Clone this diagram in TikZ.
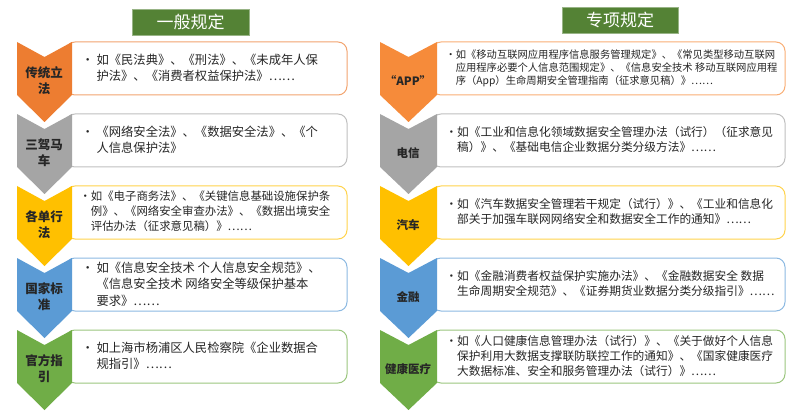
\documentclass[tikz,border=0pt]{standalone}
\usepackage{fontspec}
\setmainfont{Noto Sans CJK SC}
\definecolor{cOr}{HTML}{ED7D31}
\definecolor{cOr2}{HTML}{F68B3A}
\definecolor{cGr}{HTML}{A5A5A5}
\definecolor{cYe}{HTML}{FFC000}
\definecolor{cBl}{HTML}{5B9BD5}
\definecolor{cGn}{HTML}{70AD47}
\definecolor{cTi}{HTML}{548235}
\newcommand\mychev[4]{% x0, x1, ytop, color
  \fill[#4] (#1,#3) -- ({(#1+#2)/2},#3+15) -- (#2,#3) -- (#2,#3+53) -- ({(#1+#2)/2},#3+80) -- (#1,#3+53) -- cycle;}
\tikzset{
  titlebox/.style={fill=cTi, draw=cTi!60, text=white, font=\fontsize{17}{17}\selectfont, minimum height=26pt, inner sep=0pt},
  lbl/.style={font=\fontsize{12.5}{16}\selectfont\bfseries, align=center, text=black!85},
  lblr/.style={font=\fontsize{11.5}{15}\selectfont\bfseries, align=center, text=black!85},
  txtbox/.style={draw=#1, line width=1pt, rounded corners=9pt, fill=white},
  ltxt/.style={font=\fontsize{12.3}{16.5}\selectfont, align=left, anchor=west, text=black!85},
  rtxt/.style={font=\fontsize{11.7}{15}\selectfont, align=left, anchor=west, text=black!85},
}
\begin{document}
\begin{tikzpicture}[x=1pt,y=-1pt]
\useasboundingbox (0,0) rectangle (800,414);
\node[titlebox, minimum width=117pt] (t1) at (190.5,22) {一般规定};
\node[titlebox, minimum width=116pt] (t2) at (620,20) {专项规定};
% left
\foreach \y/\c in {42/cOr,114/cGr,186/cYe,258/cBl,330/cGn}{
  \draw[txtbox=\c!70] (66,\y) rectangle (347,\y+53);
  \mychev{17}{72}{\y}{\c}
}
\node[lbl] (l1) at (44,81) {传统立\\法};
\node[lbl] (l2) at (44,153) {三驾马\\车};
\node[lbl] (l3) at (44,225) {各单行\\法};
\node[lbl] (l4) at (44,297) {国家标\\准};
\node[lbl] (l5) at (44,369) {官方指\\引};
\node[ltxt] (a1) at (78,68) {•\ 如《民法典》、《刑法》、《未成年人保\\\phantom{•\ }护法》、《消费者权益保护法》……};
\node[ltxt] (a2) at (78,140) {•\ 《网络安全法》、《数据安全法》、《个\\\phantom{•\ }人信息保护法》};
\node[ltxt, font=\fontsize{11.4}{15}\selectfont] (a3) at (76,211) {•如《电子商务法》、《关键信息基础设施保护条\\\phantom{•}例》、《网络安全审查办法》、《数据出境安全\\\phantom{•}评估办法（征求意见稿）》……};
\node[ltxt] (a4) at (78,284) {•\ 如《信息安全技术\ 个人信息安全规范》、\\\phantom{•\ }《信息安全技术\ 网络安全等级保护基本\\\phantom{•\ }要求》……};
\node[ltxt] (a5) at (78,356) {•\ 如上海市杨浦区人民检察院《企业数据合\\\phantom{•\ }规指引》……};
% right
\foreach \y/\c in {42/cOr2,114/cGr,186/cYe,258/cBl,330/cGn}{
  \draw[txtbox=\c!70] (432,\y) rectangle (785,\y+53);
  \mychev{380}{437}{\y}{\c}
}
\node[lblr] (r1) at (408,81) {“APP”};
\node[lblr] (r2) at (408,153) {电信};
\node[lblr] (r3) at (408,225) {汽车};
\node[lblr] (r4) at (408,297) {金融};
\node[lblr] (r5) at (408,369) {健康医疗};
\node[rtxt, font=\fontsize{10.3}{13}\selectfont] (b1) at (442,68) {•如《移动互联网应用程序信息服务管理规定》、《常见类型移动互联网\\\phantom{•}应用程序必要个人信息范围规定》、《信息安全技术 移动互联网应用程\\\phantom{•}序（App）生命周期安全管理指南（征求意见稿）》……};
\node[rtxt] (b2) at (442,140) {•如《工业和信息化领域数据安全管理办法（试行）（征求意见\\\phantom{•}稿）》、《基础电信企业数据分类分级方法》……};
\node[rtxt] (b3) at (442,212) {•如《汽车数据安全管理若干规定（试行）》、《工业和信息化\\\phantom{•}部关于加强车联网网络安全和数据安全工作的通知》……};
\node[rtxt] (b4) at (442,284) {•如《金融消费者权益保护实施办法》、《金融数据安全\ 数据\\\phantom{•}生命周期安全规范》、《证券期货业数据分类分级指引》……};
\node[rtxt] (b5) at (442,356) {•如《人口健康信息管理办法（试行）》、《关于做好个人信息\\\phantom{•}保护利用大数据支撑联防联控工作的通知》、《国家健康医疗\\\phantom{•}大数据标准、安全和服务管理办法（试行）》……};
\end{tikzpicture}
\end{document}
